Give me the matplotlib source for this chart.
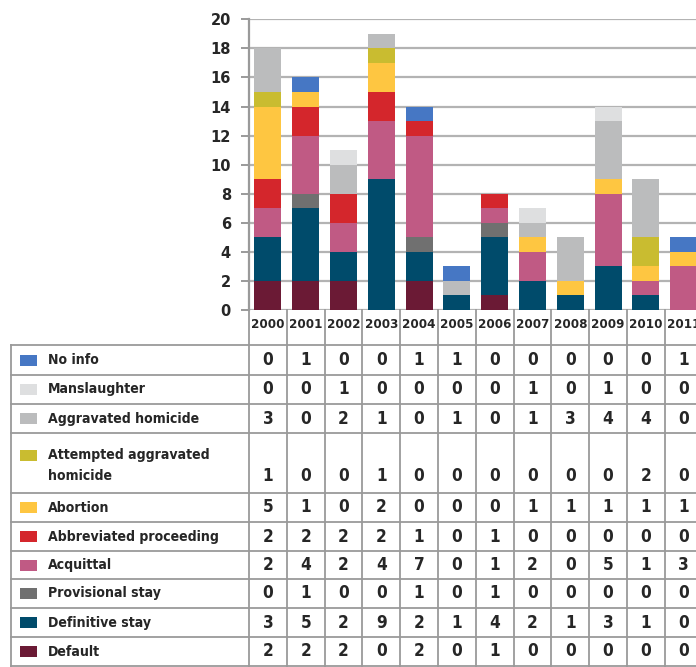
import matplotlib
matplotlib.use("Agg")
import matplotlib.pyplot as plt
from matplotlib import font_manager as fm
from matplotlib.patches import Rectangle

years = ["2000", "2001", "2002", "2003", "2004", "2005", "2006", "2007", "2008", "2009", "2010", "2011"]

# series listed top (table order) to bottom
no_info = [0, 1, 0, 0, 1, 1, 0, 0, 0, 0, 0, 1]
manslaughter = [0, 0, 1, 0, 0, 0, 0, 1, 0, 1, 0, 0]
aggravated_homicide = [3, 0, 2, 1, 0, 1, 0, 1, 3, 4, 4, 0]
attempted_aggravated = [1, 0, 0, 1, 0, 0, 0, 0, 0, 0, 2, 0]
abortion = [5, 1, 0, 2, 0, 0, 0, 1, 1, 1, 1, 1]
abbreviated = [2, 2, 2, 2, 1, 0, 1, 0, 0, 0, 0, 0]
acquittal = [2, 4, 2, 4, 7, 0, 1, 2, 0, 5, 1, 3]
provisional_stay = [0, 1, 0, 0, 1, 0, 1, 0, 0, 0, 0, 0]
definitive_stay = [3, 5, 2, 9, 2, 1, 4, 2, 1, 3, 1, 0]
default = [2, 2, 2, 0, 2, 0, 1, 0, 0, 0, 0, 0]

labels = ["No info", "Manslaughter", "Aggravated homicide",
          "Attempted aggravated\nhomicide", "Abortion", "Abbreviated proceeding",
          "Acquittal", "Provisional stay", "Definitive stay", "Default"]
series = [no_info, manslaughter, aggravated_homicide, attempted_aggravated, abortion,
          abbreviated, acquittal, provisional_stay, definitive_stay, default]
colors = ["#4677c4", "#dedfe0", "#bbbcbd", "#c9bc30", "#fec641", "#d4262c",
          "#c05a84", "#707070", "#004b6b", "#6b1a35"]

# ---- font selection (condensed look if available) ----
def find_font():
    def wt(f):
        w = f.weight
        if isinstance(w, str):
            return 700 if "bold" in w.lower() else 400
        return w
    prefs = [("Liberation Sans Narrow", None), ("DejaVu Sans", "condensed"),
             ("Roboto Condensed", None), ("Open Sans Condensed", None)]
    for name, stretch in prefs:
        for f in fm.fontManager.ttflist:
            if f.name == name and f.style == "normal" and wt(f) >= 600:
                if stretch is None or str(f.stretch) == stretch:
                    return f.fname, name
    return None, None

fpath, fname = find_font()
if fpath:
    base = fm.FontProperties(fname=fpath)
    scale = 1.25 if "Narrow" in (fname or "") else 1.1
else:
    base = fm.FontProperties(family="DejaVu Sans", weight="bold")
    scale = 1.0

def fp(size):
    p = base.copy()
    p.set_size(size * scale)
    return p

FS_LABEL = 9.2
FS_YEAR = 8.7
FS_NUM = 11.2
FS_YTICK = 10.6

TXT = "#262626"
GRID = "#b3b3b3"
LINE = "#9a9a9a"

W, H = 696, 667
fig = plt.figure(figsize=(W / 100, H / 100), dpi=100)

x0 = 249.0
colw = 37.8
y_zero = 310.0
y_top = 19.3

ax = fig.add_axes([x0 / W, (H - y_zero) / H, 12 * colw / W, (y_zero - y_top) / H])
ax.set_xlim(-0.5, 11.5)
ax.set_ylim(0, 20)

xs = list(range(len(years)))
bottom = [0] * len(years)
for vals, col in zip(reversed(series), reversed(colors)):
    ax.bar(xs, vals, width=0.71, bottom=bottom, color=col, linewidth=0, zorder=3)
    bottom = [b + v for b, v in zip(bottom, vals)]

ax.set_yticks(range(0, 21, 2))
ax.yaxis.grid(True, color=GRID, linewidth=1.6, zorder=0)
ax.set_axisbelow(True)
for s in ["top", "right", "bottom"]:
    ax.spines[s].set_visible(False)
ax.spines["left"].set_color(LINE)
ax.spines["left"].set_linewidth(1.6)
ax.tick_params(axis="y", length=6, width=1.4, color=LINE, pad=7, labelcolor=TXT)
for lab in ax.get_yticklabels():
    lab.set_fontproperties(fp(FS_YTICK))
ax.set_xticks(xs)
ax.set_xticklabels(years)
ax.tick_params(axis="x", length=0, pad=6, labelcolor=TXT)
for lab in ax.get_xticklabels():
    lab.set_fontproperties(fp(FS_YEAR))

# ---- table in pixel coordinates ----
tax = fig.add_axes([0, 0, 1, 1])
tax.set_xlim(0, W)
tax.set_ylim(H, 0)
tax.axis("off")
tax.patch.set_alpha(0)

row_h = [30, 29, 29, 60, 29, 29, 28, 29, 29, 29]
table_top = 345.0
left = 11.0
bounds = [table_top]
for h in row_h:
    bounds.append(bounds[-1] + h)

lw = 1.3
for yb in bounds:
    tax.plot([left, W + 10], [yb, yb], color=LINE, lw=lw, clip_on=False)
tax.plot([left, left], [table_top, H + 5], color=LINE, lw=lw)
for i in range(13):
    xc = x0 + i * colw
    tax.plot([xc, xc], [y_zero, H + 5], color=LINE, lw=lw)

for r, (lab, vals, col) in enumerate(zip(labels, series, colors)):
    top, bot = bounds[r], bounds[r + 1]
    lines = lab.split("\n")
    if len(lines) == 1:
        yc = (top + bot) / 2
        sw_y = yc
        tax.text(48, yc, lines[0], fontproperties=fp(FS_LABEL), color=TXT, va="center", ha="left")
        num_y = yc
    else:
        sw_y = bot - 38
        tax.text(48, bot - 38, lines[0], fontproperties=fp(FS_LABEL), color=TXT, va="center", ha="left")
        tax.text(48, bot - 17, lines[1], fontproperties=fp(FS_LABEL), color=TXT, va="center", ha="left")
        num_y = bot - 17
    tax.add_patch(Rectangle((20, sw_y - 5.5), 17, 11, color=col, lw=0))
    for i, v in enumerate(vals):
        tax.text(x0 + (i + 0.5) * colw, num_y, str(v), fontproperties=fp(FS_NUM), color=TXT,
                 va="center", ha="center")

fig.savefig("out.png", dpi=100)
